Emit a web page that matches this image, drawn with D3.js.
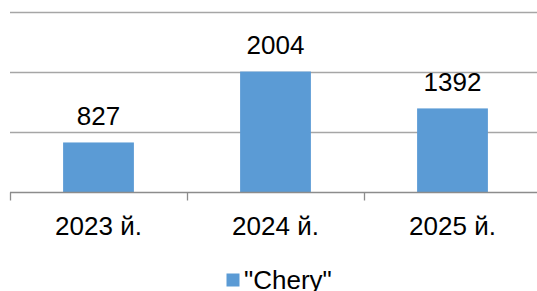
<!DOCTYPE html>
<html lang="uz">
<head>
    <meta charset="UTF-8">
    <title>Chery</title>
    <script src="https://d3js.org/d3.v7.min.js"></script>
    <style type="text/css">
        body { margin: 0; background: #fff; }
        text { font-family: "Liberation Sans", Arial, sans-serif; fill: #000; }
        .grid line { stroke: #a6a6a6; stroke-width: 1.3px; }
        .axis path, .axis line { stroke: #8c8c8c; stroke-width: 1.3px; }
        .axis text { font-size: 26px; }
        .label { font-size: 26px; }
        .legend text { font-size: 26px; }
    </style>
</head>
<body>
    <script type="text/javascript">
        const width = 537;
        const height = 291;

        const categories = ["2023 й.", "2024 й.", "2025 й."];
        const values = [827, 2004, 1392];
        const yTicks = [0, 1000, 2000, 3000];
        const seriesName = "\"Chery\"";

        const svg = d3.select("body")
            .append("svg")
            .attr("width", width)
            .attr("height", height);

        const xScale = d3.scaleBand()
            .domain(categories)
            .range([10, 541])
            .padding(0);

        const yScale = d3.scaleLinear()
            .domain([0, 3000])
            .range([192.3, 11.5]);

        const barWidth = xScale.bandwidth() * 0.4;

        // horizontal gridlines
        svg.append("g")
            .attr("class", "grid")
            .selectAll("line")
            .data(yTicks.slice(1))
            .join("line")
            .attr("x1", 10)
            .attr("x2", 541)
            .attr("y1", d => Math.round(yScale(d)) + 0.5)
            .attr("y2", d => Math.round(yScale(d)) + 0.5);

        svg.append("g")
            .selectAll("rect")
            .data(values)
            .join("rect")
            .attr("x", (d, i) => xScale(categories[i]) + (xScale.bandwidth() - barWidth) / 2)
            .attr("y", d => yScale(d))
            .attr("width", barWidth)
            .attr("height", d => yScale(0) - yScale(d))
            .attr("fill", "#5b9bd5");

        svg.append("g")
            .selectAll("text")
            .data(values)
            .join("text")
            .attr("class", "label")
            .attr("x", (d, i) => xScale(categories[i]) + xScale.bandwidth() / 2)
            .attr("y", d => yScale(d) - 17.5)
            .attr("text-anchor", "middle")
            .text(d => d);

        // x axis with ticks at category boundaries
        const axis = svg.append("g")
            .attr("class", "axis")
            .attr("transform", `translate(0,${Math.round(yScale(0)) + 0.5})`);

        axis.append("line")
            .attr("x1", 10)
            .attr("x2", 541);

        axis.selectAll(".tick")
            .data(categories.concat([null]))
            .join("line")
            .attr("class", "tick")
            .attr("x1", (d, i) => Math.round(10 + i * xScale.step()) + 0.5)
            .attr("x2", (d, i) => Math.round(10 + i * xScale.step()) + 0.5)
            .attr("y1", 0)
            .attr("y2", 8);

        axis.selectAll("text")
            .data(categories)
            .join("text")
            .attr("x", d => xScale(d) + xScale.bandwidth() / 2)
            .attr("y", 42)
            .attr("text-anchor", "middle")
            .text(d => d);

        // legend
        const legend = svg.append("g").attr("class", "legend");
        legend.append("rect")
            .attr("x", 226.5)
            .attr("y", 273.5)
            .attr("width", 13)
            .attr("height", 13)
            .attr("fill", "#5b9bd5");
        legend.append("text")
            .attr("x", 244)
            .attr("y", 288.6)
            .text(seriesName);
    </script>
</body>
</html>
